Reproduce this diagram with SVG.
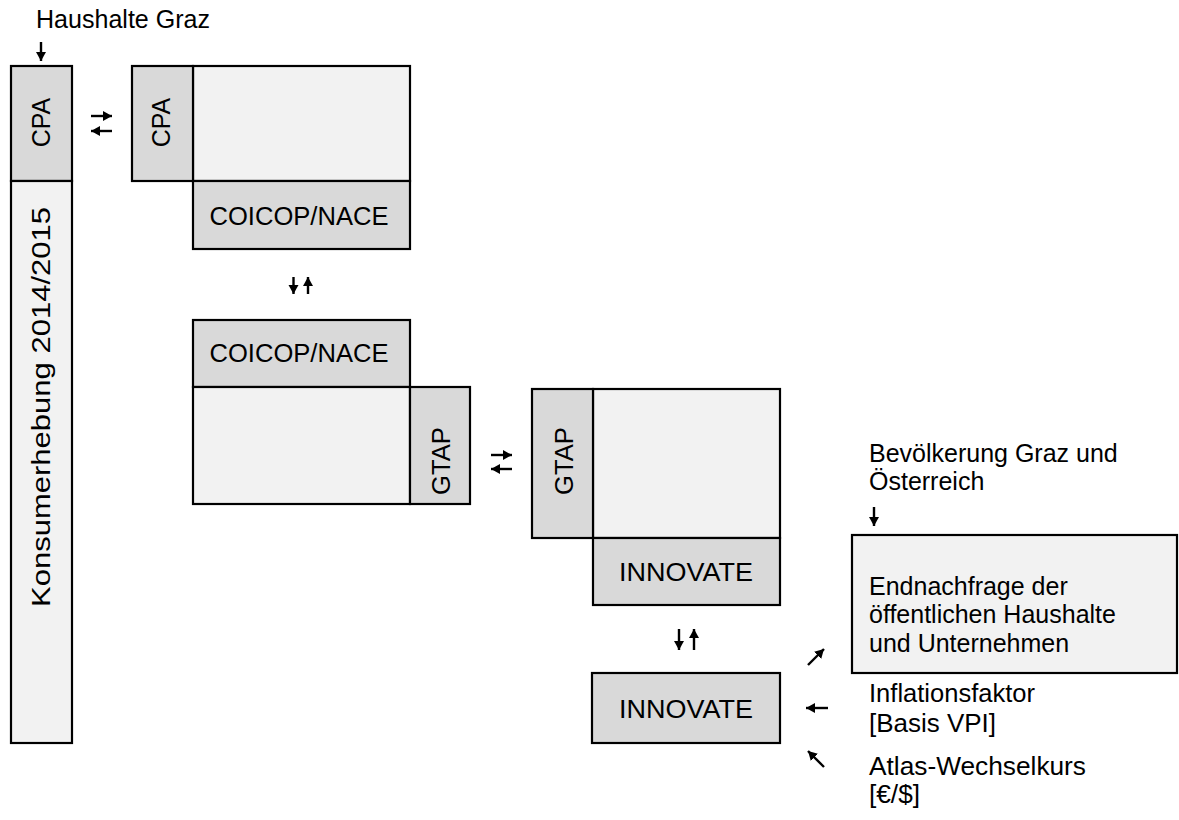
<svg xmlns="http://www.w3.org/2000/svg" width="1179" height="820" viewBox="0 0 1179 820">
<style>
.lt{fill:#f2f2f2;stroke:#000;stroke-width:2.2}
.dk{fill:#d9d9d9;stroke:#000;stroke-width:2.2}
text{font-family:"Liberation Sans",Arial,sans-serif;font-size:25px;fill:#000}
.c{text-anchor:middle}
.big{font-size:26px}
.ar{stroke:#000;stroke-width:2.4;fill:none;marker-end:url(#ah)}
</style>
<defs>
<marker id="ah" markerUnits="userSpaceOnUse" markerWidth="11" markerHeight="11" refX="9" refY="5" orient="auto">
<path d="M0,0 L9,5 L0,10 z" fill="#000"/>
</marker>
</defs>
<rect width="1179" height="820" fill="#fff"/>

<g id="label-haushalte">
<text x="36" y="28" textLength="174" lengthAdjust="spacingAndGlyphs">Haushalte Graz</text>
</g>

<g id="node-cpa-left">
<rect class="dk" x="11" y="66" width="61" height="115"/>
<text class="c" transform="translate(50,122.5) rotate(-90)">CPA</text>
</g>

<g id="node-konsum">
<rect class="lt" x="11" y="181" width="61" height="562"/>
<text class="c" transform="translate(50,407) rotate(-90)" textLength="400" lengthAdjust="spacingAndGlyphs">Konsumerhebung 2014/2015</text>
</g>

<g id="node-cpa-right">
<rect class="lt" x="193" y="66" width="217" height="115"/>
<rect class="dk" x="132" y="66" width="61" height="115"/>
<text class="c" transform="translate(170,122.5) rotate(-90)">CPA</text>
</g>

<g id="node-coicop-1">
<rect class="dk" x="193" y="181" width="217" height="68"/>
<text class="c" x="299" y="225" textLength="179" lengthAdjust="spacingAndGlyphs">COICOP/NACE</text>
</g>

<g id="node-coicop-2">
<rect class="dk" x="193" y="320" width="217" height="67"/>
<text class="c" x="299" y="362" textLength="179" lengthAdjust="spacingAndGlyphs">COICOP/NACE</text>
</g>

<g id="node-gtap-left">
<rect class="lt" x="193" y="387" width="217" height="117"/>
<rect class="dk" x="410" y="387" width="60" height="117"/>
<text class="c" transform="translate(450,461) rotate(-90)" textLength="68" lengthAdjust="spacingAndGlyphs">GTAP</text>
</g>

<g id="node-gtap-right">
<rect class="lt" x="593" y="389" width="187" height="149"/>
<rect class="dk" x="532" y="389" width="61" height="149"/>
<text class="c" transform="translate(573,461) rotate(-90)" textLength="68" lengthAdjust="spacingAndGlyphs">GTAP</text>
</g>

<g id="node-innovate-1">
<rect class="dk" x="593" y="538" width="187" height="67"/>
<text class="c big" x="686" y="581" textLength="134" lengthAdjust="spacingAndGlyphs">INNOVATE</text>
</g>

<g id="node-innovate-2">
<rect class="dk" x="592" y="673" width="188" height="70"/>
<text class="c big" x="686" y="718" textLength="134" lengthAdjust="spacingAndGlyphs">INNOVATE</text>
</g>

<g id="label-bevoelkerung">
<text x="869" y="462">Bevölkerung Graz und</text>
<text x="869" y="490">Österreich</text>
</g>

<g id="node-endnachfrage">
<rect class="lt" x="852" y="535" width="325" height="138"/>
<text x="869" y="595">Endnachfrage der</text>
<text x="869" y="623">öffentlichen Haushalte</text>
<text x="869" y="652">und Unternehmen</text>
</g>

<g id="label-inflation">
<text x="869" y="702" textLength="166" lengthAdjust="spacingAndGlyphs">Inflationsfaktor</text>
<text x="869" y="732" textLength="127" lengthAdjust="spacingAndGlyphs">[Basis VPI]</text>
</g>

<g id="label-atlas">
<text x="869" y="775" textLength="217" lengthAdjust="spacingAndGlyphs">Atlas-Wechselkurs</text>
<text x="869" y="803" textLength="51" lengthAdjust="spacingAndGlyphs">[€/$]</text>
</g>

<g id="connectors">
<line class="ar" x1="41" y1="42" x2="41" y2="61"/>
<line class="ar" x1="91" y1="116" x2="112" y2="116"/>
<line class="ar" x1="112" y1="131" x2="91" y2="131"/>
<line class="ar" x1="293.5" y1="277" x2="293.5" y2="294"/>
<line class="ar" x1="308" y1="294" x2="308" y2="277"/>
<line class="ar" x1="491" y1="455" x2="512" y2="455"/>
<line class="ar" x1="512" y1="469" x2="491" y2="469"/>
<line class="ar" x1="679" y1="629" x2="679" y2="650"/>
<line class="ar" x1="694" y1="650" x2="694" y2="629"/>
<line class="ar" x1="874" y1="507" x2="874" y2="526"/>
<line class="ar" x1="808" y1="665" x2="824" y2="649"/>
<line class="ar" x1="828" y1="708" x2="806" y2="708"/>
<line class="ar" x1="824" y1="767" x2="808" y2="751"/>
</g>
</svg>
